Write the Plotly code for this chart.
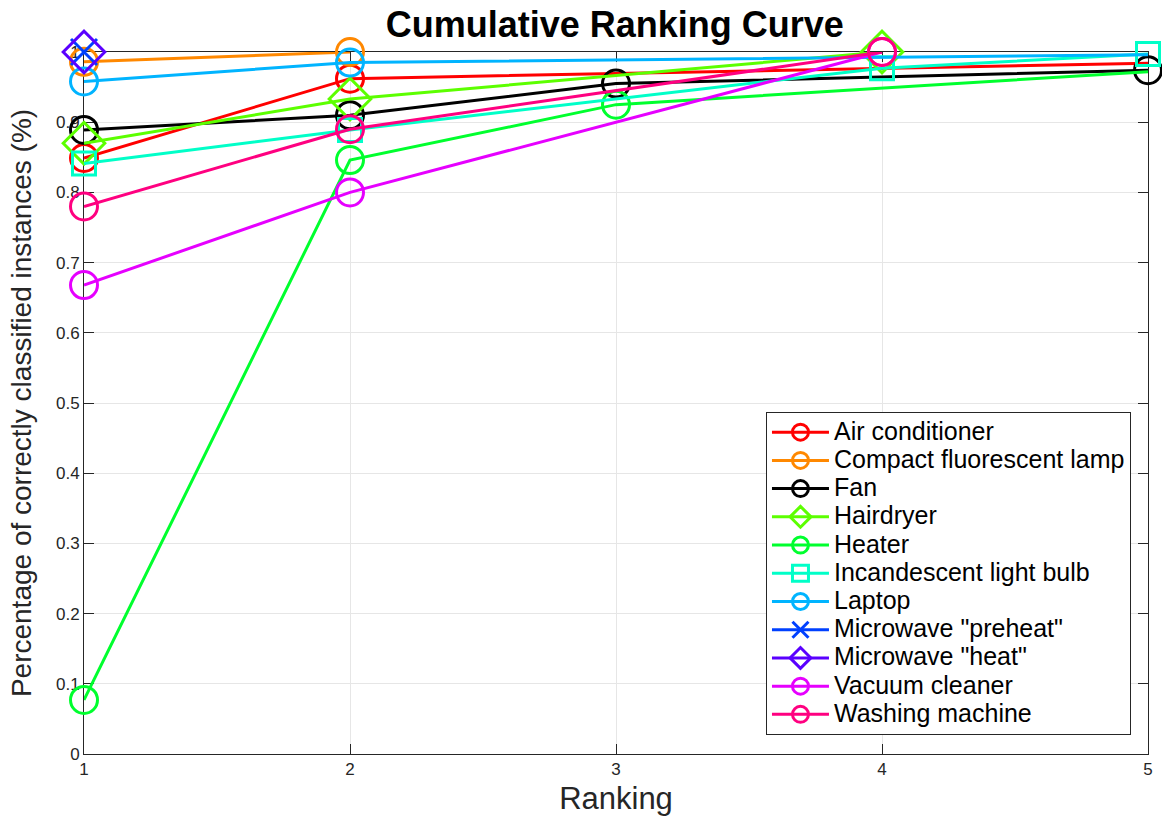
import plotly.graph_objects as go

names = ["Air conditioner", "Compact fluorescent lamp", "Fan", "Hairdryer", "Heater",
         "Incandescent light bulb", "Laptop", 'Microwave "preheat"', 'Microwave "heat"',
         "Vacuum cleaner", "Washing machine"]

air_x = [1, 2, 5];            air_y = [0.849, 0.962, 0.984]
cfl_x = [1, 2];               cfl_y = [0.986, 1.0]
fan_x = [1, 2, 3, 5];         fan_y = [0.889, 0.910, 0.955, 0.974]
hair_x = [1, 2, 4];           hair_y = [0.870, 0.933, 1.0]
heat_x = [1, 2, 3, 5];        heat_y = [0.077, 0.846, 0.925, 0.972]
inc_x = [1, 2, 4, 5];         inc_y = [0.841, 0.889, 0.977, 0.997]
lap_x = [1, 2, 5];            lap_y = [0.958, 0.985, 0.996]
mwp_x = [1];                  mwp_y = [1.0]
mwh_x = [1];                  mwh_y = [1.0]
vac_x = [1, 2, 4];            vac_y = [0.668, 0.800, 1.0]
wash_x = [1, 2, 4];           wash_y = [0.780, 0.890, 1.0]

# number of leading points that carry a marker (the rest run on without one)
marked = [2, 2, 4, 3, 3, 4, 2, 1, 1, 3, 3]

xs = [air_x, cfl_x, fan_x, hair_x, heat_x, inc_x, lap_x, mwp_x, mwh_x, vac_x, wash_x]
ys = [air_y, cfl_y, fan_y, hair_y, heat_y, inc_y, lap_y, mwp_y, mwh_y, vac_y, wash_y]

colors = ["#FF0000", "#FF8800", "#000000", "#5CFF00", "#00FF2E", "#00FFC8",
          "#00B4FF", "#0040FF", "#5A00FF", "#E600FF", "#FF0080"]
symbols = ["circle-open", "circle-open", "circle-open", "diamond-open", "circle-open",
           "square-open", "circle-open", "x-thin-open", "diamond-open", "circle-open",
           "circle-open"]
sizes = [27, 27, 27, 32, 27, 23, 27, 26, 32, 27, 27]

x_ticks = [1, 2, 3, 4, 5]
y_ticks = [0, 0.1, 0.2, 0.3, 0.4, 0.5, 0.6, 0.7, 0.8, 0.9, 1]
y_tick_text = ["0", "0.1", "0.2", "0.3", "0.4", "0.5", "0.6", "0.7", "0.8", "0.9", "1"]

FONT = "Liberation Sans, Arial, Helvetica, sans-serif"

fig = go.Figure()
for i, n in enumerate(names):
    c = colors[i]
    fig.add_trace(go.Scatter(x=xs[i], y=ys[i], mode="lines", line=dict(color=c, width=3),
                             showlegend=False, legendgroup=n, hoverinfo="skip"))
    k = marked[i]
    fig.add_trace(go.Scatter(x=xs[i][:k], y=ys[i][:k], mode="markers", cliponaxis=False,
                             marker=dict(symbol=symbols[i], size=sizes[i], color=c,
                                         line=dict(color=c, width=3)),
                             showlegend=False, legendgroup=n, name=n))
for i, n in enumerate(names):
    c = colors[i]
    fig.add_trace(go.Scatter(x=[None], y=[None], mode="lines+markers",
                             name='<span style="font-size:25px">' + n + '</span>',
                             legendgroup=n, line=dict(color=c, width=3),
                             marker=dict(symbol=symbols[i], size=sizes[i], color=c,
                                         line=dict(color=c, width=3))))

axis_common = dict(showline=True, linecolor="#262626", linewidth=1, mirror="ticks",
                   ticks="inside", ticklen=10, tickcolor="#262626", layer="below traces",
                   showgrid=True, gridcolor="#E6E6E6", gridwidth=1, zeroline=False,
                   automargin=False,
                   tickfont=dict(family=FONT, size=17, color="#262626"))

fig.update_layout(
    width=1162, height=816,
    paper_bgcolor="white", plot_bgcolor="white",
    margin=dict(l=84, r=14, t=52, b=62),
    title=dict(text="<b>Cumulative Ranking Curve</b>", x=0.529, xanchor="center",
               y=0.9695, yanchor="middle",
               font=dict(family=FONT, size=36, color="black")),
    xaxis=dict(range=[1, 5], tickvals=x_ticks, ticktext=[str(v) for v in x_ticks],
               title=dict(text="Ranking", standoff=11,
                          font=dict(family=FONT, size=31, color="#262626")),
               **axis_common),
    yaxis=dict(range=[0, 1], tickvals=y_ticks, ticktext=y_tick_text,
               title=dict(text="Percentage of correctly classified instances (%)", standoff=16,
                          font=dict(family=FONT, size=28, color="#262626")),
               **axis_common),
    legend=dict(x=0.984, xanchor="right", y=0.027, yanchor="bottom",
                bgcolor="white", bordercolor="#262626", borderwidth=1,
                font=dict(family=FONT, size=19.4, color="black"),
                itemwidth=57, tracegroupgap=0),
    showlegend=True,
)

fig.write_html("out.html", config={"displayModeBar": False},
               post_script="document.body.style.margin='0';document.body.style.overflow='hidden';")
